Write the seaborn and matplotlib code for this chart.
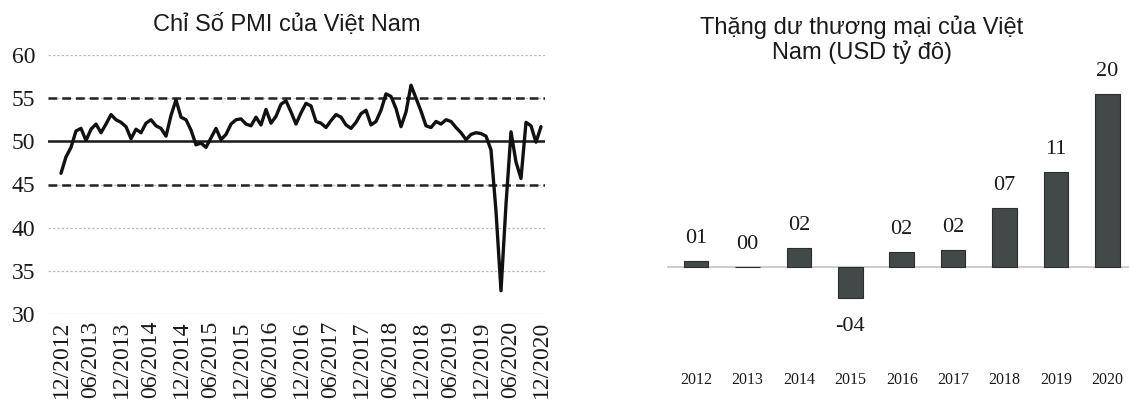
import matplotlib
matplotlib.use("Agg")
import matplotlib.pyplot as plt
import seaborn as sns
import pandas as pd
import numpy as np

# ---------------- data ----------------
pmi_values = [46.3, 48.2, 49.3, 51.2, 51.5, 50.1, 51.4, 52.0, 51.0, 52.0,
              53.1, 52.5, 52.2, 51.7, 50.3, 51.4, 51.0, 52.1, 52.5, 51.8,
              51.5, 50.6, 53.0, 54.8, 52.8, 52.5, 51.3, 49.6, 49.8, 49.3,
              50.4, 51.5, 50.2, 50.8, 52.0, 52.5, 52.6, 52.0, 51.8, 52.8,
              51.9, 53.7, 52.1, 52.9, 54.3, 54.7, 53.4, 52.0, 53.3, 54.4,
              54.1, 52.3, 52.1, 51.6, 52.4, 53.1, 52.8, 51.9, 51.5, 52.2,
              53.2, 53.6, 51.9, 52.3, 53.6, 55.5, 55.2, 53.8, 51.7, 53.4,
              56.5, 55.0, 53.5, 51.8, 51.6, 52.3, 52.0, 52.5, 52.3, 51.6,
              51.0, 50.2, 50.8, 51.0, 50.9, 50.6, 49.0, 41.9, 32.7, 42.7,
              51.1, 47.6, 45.7, 52.2, 51.8, 49.9, 51.7]
pmi_tick_labels = ["12/2012", "06/2013", "12/2013", "06/2014", "12/2014",
                   "06/2015", "12/2015", "06/2016", "12/2016", "06/2017",
                   "12/2017", "06/2018", "12/2018", "06/2019", "12/2019",
                   "06/2020", "12/2020"]
pmi_yticks = [30, 35, 40, 45, 50, 55, 60]

trade_years = ["2012", "2013", "2014", "2015", "2016", "2017", "2018", "2019", "2020"]
trade_values = [0.7, 0.0, 2.2, -3.6, 1.7, 2.0, 6.8, 10.9, 19.9]

title_left = "Chỉ Số PMI của Việt Nam"
title_right = "Thặng dư thương mại của Việt\nNam (USD tỷ đô)"

# ---------------- style ----------------
sns.set_theme(style="white")
plt.rcParams["font.family"] = ["Liberation Serif", "DejaVu Serif"]
SANS = ["Liberation Sans", "DejaVu Sans"]
SERIF = ["Liberation Serif", "DejaVu Serif"]

W, H = 1129, 401
fig = plt.figure(figsize=(W / 100, H / 100), dpi=100)


def frac_box(x0, y0, x1, y1):
    return [x0 / W, 1 - y1 / H, (x1 - x0) / W, (y1 - y0) / H]


# ---------------- left: PMI line ----------------
axL = fig.add_axes(frac_box(48, 55, 545, 314))
df_pmi = pd.DataFrame({"i": np.arange(len(pmi_values)), "pmi": pmi_values})

for yv in pmi_yticks:
    axL.axhline(yv, color="#bdbdbd", lw=0.9, ls=(0, (2, 1.5)), zorder=0)
axL.axhline(55, color="#222222", lw=1.8, ls=(0, (3.5, 2)), zorder=1)
axL.axhline(45, color="#222222", lw=1.8, ls=(0, (3.5, 2)), zorder=1)
axL.axhline(50, color="#1a1a1a", lw=1.8, zorder=1)

sns.lineplot(data=df_pmi, x="i", y="pmi", ax=axL, color="#111111", lw=2.4, zorder=3)
for ln in axL.get_lines():
    ln.set_solid_joinstyle("round")

axL.set_xlim(-2.6, 96.8)
axL.set_ylim(30, 60)
axL.set_yticks(pmi_yticks)
axL.set_yticklabels([str(v) for v in pmi_yticks], fontsize=17, family=SERIF, color="#1a1a1a")
axL.set_xticks(np.arange(0, len(pmi_values), 6))
axL.set_xticklabels(pmi_tick_labels, rotation=90, fontsize=17, family=SERIF,
                    color="#1a1a1a", va="top", ha="center")
axL.tick_params(axis="y", length=0, pad=9)
axL.tick_params(axis="x", length=0, pad=5)
axL.set_xlabel("")
axL.set_ylabel("")
for s in axL.spines.values():
    s.set_visible(False)
axL.grid(False)

fig.text(287 / W, 1 - 25 / H, title_left, ha="center", va="center",
         fontsize=17, family=SANS, color="#1a1a1a")

# ---------------- right: trade bars ----------------
axR = fig.add_axes(frac_box(667, 75.6, 1129, 362.7))
df_trade = pd.DataFrame({"year": trade_years, "value": trade_values})
axR.axhline(0, color="#c4c4c4", lw=1.2, zorder=0)
sns.barplot(data=df_trade, x="year", y="value", ax=axR, color="#434848",
            width=0.48, edgecolor="#2a2e2e", linewidth=0.8, saturation=1, zorder=2)

for i, v in enumerate(trade_values):
    lab = ("-" if v < 0 else "") + f"{abs(int(round(v))):02d}"
    off = 16 if v >= 0 else -20
    axR.annotate(lab, xy=(i, v), xytext=(0, off), textcoords="offset points",
                 ha="center", va="center", fontsize=16, family=SERIF, color="#1a1a1a")

axR.set_xlim(-0.564, 8.42)
axR.set_ylim(-11, 22)
axR.set_yticks([])
axR.set_xticks(range(len(trade_years)))
axR.set_xticklabels(trade_years, fontsize=11.5, family=SERIF, color="#1a1a1a")
axR.tick_params(axis="x", length=0, pad=7)
axR.set_xlabel("")
axR.set_ylabel("")
for s in axR.spines.values():
    s.set_visible(False)
axR.grid(False)

fig.text(862 / W, 1 - 40 / H, title_right, ha="center", va="center",
         fontsize=17, family=SANS, color="#1a1a1a", linespacing=1.1)

fig.savefig("out.png", dpi=100, facecolor="white")
